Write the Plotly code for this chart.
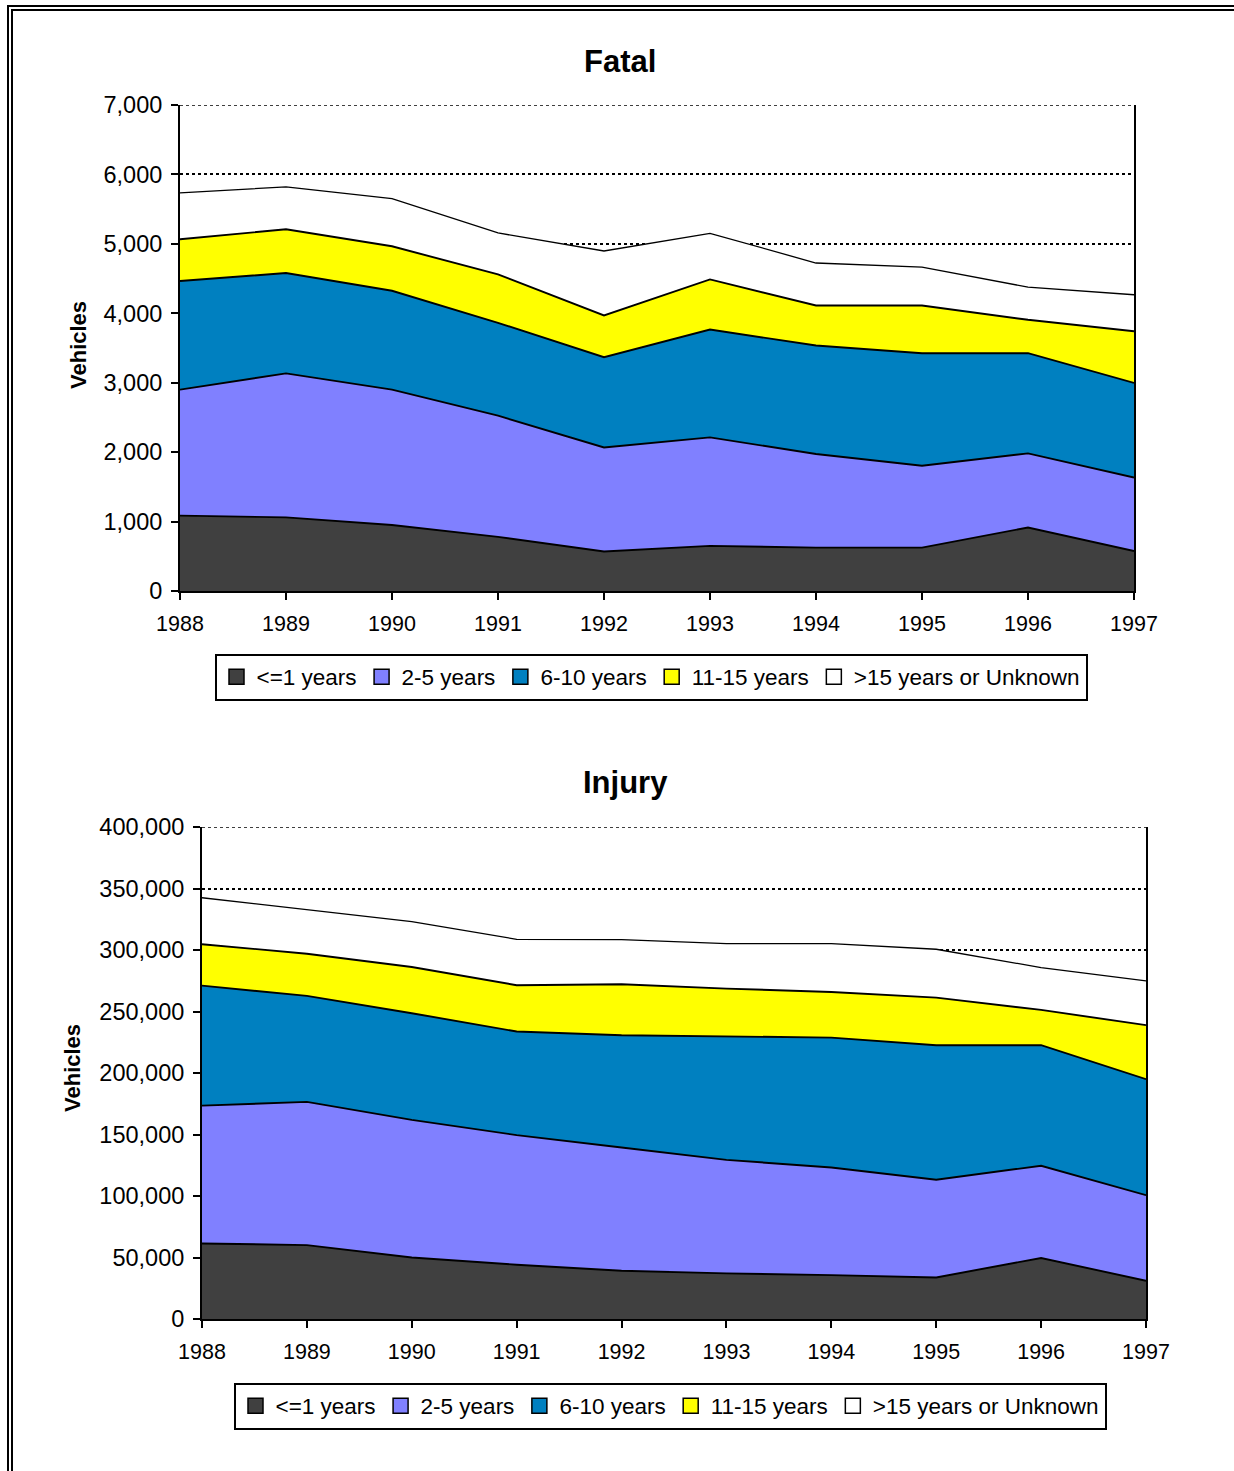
import plotly.graph_objects as go

W, H = 1234, 1471

years = [1988, 1989, 1990, 1991, 1992, 1993, 1994, 1995, 1996, 1997]
series_names = ["<=1 years", "2-5 years", "6-10 years", "11-15 years", ">15 years or Unknown"]
series_colors = ["#404040", "#8080FF", "#0080C0", "#FFFF00", "#FFFFFF"]

# Fatal (vehicles)
fatal_le1 = [1085, 1060, 950, 780, 570, 650, 625, 625, 915, 575]
fatal_2_5 = [1815, 2075, 1950, 1745, 1498, 1563, 1348, 1179, 1067, 1060]
fatal_6_10 = [1565, 1445, 1425, 1338, 1299, 1553, 1563, 1621, 1443, 1362]
fatal_11_15 = [601, 630, 640, 697, 602, 722, 577, 688, 481, 745]
fatal_gt15 = [668, 611, 687, 597, 928, 664, 611, 553, 471, 525]

# Injury (vehicles)
injury_le1 = [61400, 60100, 50000, 44100, 39200, 37100, 35700, 33800, 49600, 31100]
injury_2_5 = [112100, 116400, 111900, 105400, 100200, 92300, 87500, 79400, 75000, 69600]
injury_6_10 = [97500, 86200, 86700, 84200, 91300, 100200, 105600, 109400, 98000, 94300]
injury_11_15 = [33700, 34300, 37600, 37700, 41500, 39000, 37100, 38700, 28700, 43900]
injury_gt15 = [37800, 35800, 36800, 37300, 36200, 36600, 39300, 39300, 34400, 36000]

fatal_series = [fatal_le1, fatal_2_5, fatal_6_10, fatal_11_15, fatal_gt15]
injury_series = [injury_le1, injury_2_5, injury_6_10, injury_11_15, injury_gt15]

FATAL_MAX = 7000
INJURY_MAX = 400000

FONT = "Liberation Sans, Arial, sans-serif"


def px(x):
    return x / W


def py(y):
    return 1 - y / H


fig = go.Figure()

for vals, name, col in zip(fatal_series, series_names, series_colors):
    fig.add_trace(go.Scatter(
        x=years, y=vals, name=name, mode="lines", stackgroup="fatal",
        fillcolor=col, line=dict(color="black", width=1.9 if col != "#FFFFFF" else 1.3),
        showlegend=False, xaxis="x", yaxis="y", hoverinfo="x+y+name"))

for vals, name, col in zip(injury_series, series_names, series_colors):
    fig.add_trace(go.Scatter(
        x=years, y=vals, name=name, mode="lines", stackgroup="injury",
        fillcolor=col, line=dict(color="black", width=1.9 if col != "#FFFFFF" else 1.3),
        showlegend=False, xaxis="x2", yaxis="y2", hoverinfo="x+y+name"))

# legend entries (square swatches)
for lg, xa, ya in [("legend", "x", "y"), ("legend2", "x2", "y2")]:
    for name, col in zip(series_names, series_colors):
        fig.add_trace(go.Scatter(
            x=[None], y=[None], mode="markers", name=name,
            marker=dict(symbol="square", size=15, color=col,
                        line=dict(color="black", width=1.5)),
            legend=lg, xaxis=xa, yaxis=ya, showlegend=True))

axis_common = dict(showline=True, linecolor="black", linewidth=2,
                   ticks="outside", ticklen=7, tickwidth=2, tickcolor="black",
                   zeroline=False, automargin=False)

xaxis_common = dict(range=[1988, 1997], tickmode="array", tickvals=years,
                    ticktext=[str(y) for y in years], showgrid=False, mirror=False,
                    ticklabelstandoff=5,
                    tickfont=dict(family=FONT, size=21.5, color="black"), **axis_common)

yaxis_common = dict(tick0=0, tickformat=",", showgrid=True, gridcolor="black",
                    griddash="dot", gridwidth=1.5, mirror=True, ticklabelstandoff=4,
                    tickfont=dict(family=FONT, size=23.5, color="black"), **axis_common)

legend_common = dict(orientation="h", xanchor="center", yanchor="middle",
                     bgcolor="white", bordercolor="black", borderwidth=2,
                     traceorder="normal",
                     font=dict(family=FONT, size=22.5, color="black"), itemclick=False)

fig.update_layout(
    width=W, height=H, autosize=False,
    margin=dict(l=0, r=0, t=0, b=0, pad=0, autoexpand=False),
    paper_bgcolor="white", plot_bgcolor="white",
    font=dict(family=FONT, color="black"),
    xaxis=dict(domain=[px(180), px(1134)], anchor="y", **xaxis_common),
    yaxis=dict(domain=[py(591), py(105)], range=[0, FATAL_MAX], dtick=1000,
               anchor="x", **yaxis_common),
    xaxis2=dict(domain=[px(202), px(1146)], anchor="y2", **xaxis_common),
    yaxis2=dict(domain=[py(1319), py(827)], range=[0, INJURY_MAX], dtick=50000,
                anchor="x2", **yaxis_common),
    legend=dict(x=px(651), y=py(677), **legend_common),
    legend2=dict(x=px(670), y=py(1406), **legend_common),
    showlegend=True,
)

annotations = [
    dict(text="<b>Fatal</b>", x=px(620), y=py(62), xref="paper", yref="paper",
         showarrow=False, font=dict(family=FONT, size=31, color="black"),
         xanchor="center", yanchor="middle"),
    dict(text="<b>Injury</b>", x=px(625), y=py(782), xref="paper", yref="paper",
         showarrow=False, font=dict(family=FONT, size=31, color="black"),
         xanchor="center", yanchor="middle"),
    dict(text="<b>Vehicles</b>", x=px(78), y=py(345), xref="paper", yref="paper",
         showarrow=False, textangle=-90, font=dict(family=FONT, size=22, color="black"),
         xanchor="center", yanchor="middle"),
    dict(text="<b>Vehicles</b>", x=px(72), y=py(1068), xref="paper", yref="paper",
         showarrow=False, textangle=-90, font=dict(family=FONT, size=22, color="black"),
         xanchor="center", yanchor="middle"),
]
fig.update_layout(annotations=annotations)

shapes = [
    # page double border (top and left)
    dict(type="line", xref="paper", yref="paper", x0=px(7), x1=1, y0=py(6), y1=py(6),
         line=dict(color="black", width=2)),
    dict(type="line", xref="paper", yref="paper", x0=px(11), x1=1, y0=py(10), y1=py(10),
         line=dict(color="black", width=2)),
    dict(type="line", xref="paper", yref="paper", x0=px(8), x1=px(8), y0=py(5), y1=0,
         line=dict(color="black", width=2)),
    dict(type="line", xref="paper", yref="paper", x0=px(12), x1=px(12), y0=py(9), y1=0,
         line=dict(color="black", width=2)),
    # dotted top gridlines (plot-area top edge)
    dict(type="line", xref="x domain", yref="y", x0=0, x1=1, y0=FATAL_MAX, y1=FATAL_MAX,
         line=dict(color="black", width=1.5, dash="dot")),
    dict(type="line", xref="x2 domain", yref="y2", x0=0, x1=1, y0=INJURY_MAX, y1=INJURY_MAX,
         line=dict(color="black", width=1.5, dash="dot")),
]
fig.update_layout(shapes=shapes)

fig.write_html("out.html", config={"displayModeBar": False},
               post_script="document.body.style.margin='0';document.body.style.overflow='hidden';")
